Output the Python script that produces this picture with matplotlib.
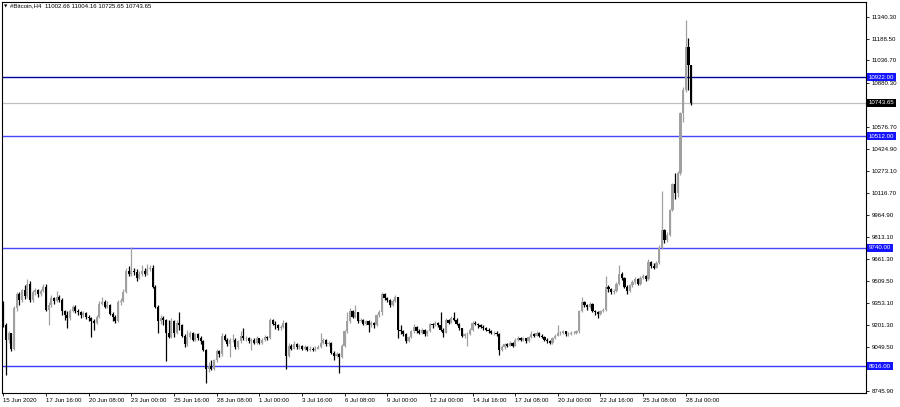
import numpy as np
import matplotlib
matplotlib.use("Agg")
import matplotlib.pyplot as plt
import matplotlib.transforms as mtransforms

plt.rcParams['font.family'] = ['Liberation Sans', 'DejaVu Sans']

# H4 candles, 15 Jun 2020 -> 28 Jul 2020 (open of each bar = previous close)
first_open = 9340
closes = [
    9205, 9100, 9145, 9040, 9320, 9420, 9375, 9445, 9405, 9485,
    9375, 9430, 9445, 9420, 9440, 9470, 9310, 9340, 9390, 9370,
    9400, 9380, 9300, 9270, 9250, 9300, 9330, 9300, 9290, 9270,
    9285, 9260, 9250, 9230, 9220, 9260, 9350, 9365, 9330, 9345,
    9280, 9260, 9230, 9360, 9370, 9430, 9580, 9560, 9580, 9570,
    9530, 9555, 9580, 9560, 9590, 9600, 9470, 9330, 9230, 9250,
    9240, 9150, 9120, 9230, 9150, 9220, 9200, 9130, 9070, 9120,
    9150, 9100, 9140, 9110, 9090, 9030, 8900, 8920, 8900, 8960,
    9020, 9000, 9130, 9100, 9070, 9100, 9100, 9050, 9090, 9130,
    9110, 9110, 9090, 9100, 9080, 9110, 9080, 9100, 9120, 9110,
    9240, 9210, 9200, 9180, 9190, 9220, 8990, 9060, 9040, 9070,
    9050, 9060, 9040, 9050, 9030, 9040, 9030, 9040, 9050, 9080,
    9100, 9070, 9080, 9010, 8990, 9000, 8980, 9060, 9160, 9230,
    9300, 9260, 9290, 9230, 9240, 9210, 9230, 9200, 9220, 9200,
    9270, 9290, 9420, 9390, 9380, 9340, 9370, 9400, 9170, 9160,
    9140, 9090, 9120, 9160, 9190, 9160, 9150, 9170, 9140, 9160,
    9210, 9200, 9220, 9200, 9170, 9150, 9240, 9220, 9250, 9240,
    9210, 9180, 9130, 9140, 9140, 9170, 9220, 9210, 9200, 9190,
    9180, 9170, 9160, 9150, 9150, 9140, 9030, 9050, 9070, 9060,
    9080, 9060, 9100, 9110, 9100, 9110, 9090, 9120, 9140, 9130,
    9150, 9130, 9120, 9100, 9090, 9080, 9110, 9130, 9150, 9150,
    9160, 9140, 9140, 9150, 9150, 9160, 9300, 9360, 9340, 9330,
    9350, 9300, 9290, 9280, 9300, 9310, 9470, 9450, 9430, 9440,
    9490, 9560, 9530, 9470, 9440, 9480, 9500, 9520, 9490, 9530,
    9540, 9520, 9640, 9610, 9600, 9630, 9740, 9860, 9790, 9830,
    10000, 10180, 10120, 10260, 10670, 10830, 11130, 11002.66, 10743.65,
]
highs = [
    9370, 9215, 9160, 9150, 9335, 9435, 9430, 9455, 9480, 9525,
    9510, 9445, 9460, 9455, 9450, 9490, 9485, 9360, 9410, 9400,
    9440, 9410, 9390, 9310, 9300, 9315, 9345, 9340, 9315, 9300,
    9300, 9295, 9275, 9260, 9245, 9275, 9370, 9400, 9375, 9370,
    9350, 9290, 9270, 9380, 9390, 9450, 9600, 9610, 9745, 9600,
    9590, 9575, 9620, 9595, 9625, 9620, 9620, 9480, 9340, 9270,
    9265, 9245, 9240, 9250, 9235, 9240, 9290, 9210, 9140, 9170,
    9165, 9155, 9150, 9150, 9130, 9100, 9040, 8950, 8960, 8970,
    9040, 9030, 9150, 9140, 9110, 9115, 9140, 9110, 9100, 9160,
    9185, 9130, 9120, 9115, 9110, 9125, 9115, 9110, 9135, 9130,
    9250, 9245, 9230, 9210, 9205, 9235, 9225, 9080, 9070, 9090,
    9080, 9075, 9065, 9065, 9060, 9055, 9050, 9055, 9065, 9150,
    9115, 9105, 9095, 9085, 9020, 9015, 9010, 9070, 9170, 9290,
    9320, 9305, 9340, 9295, 9255, 9245, 9240, 9235, 9230, 9225,
    9280, 9305, 9430, 9425, 9400, 9385, 9385, 9410, 9400, 9200,
    9170, 9145, 9130, 9170, 9210, 9195, 9175, 9180, 9175, 9170,
    9220, 9215, 9230, 9225, 9290, 9180, 9250, 9245, 9265, 9290,
    9250, 9215, 9185, 9150, 9155, 9180, 9230, 9230, 9220, 9210,
    9200, 9190, 9180, 9170, 9165, 9160, 9145, 9065, 9080, 9080,
    9095, 9085, 9110, 9125, 9120, 9120, 9115, 9130, 9160, 9150,
    9160, 9155, 9140, 9125, 9110, 9100, 9120, 9140, 9200, 9165,
    9170, 9165, 9155, 9160, 9165, 9170, 9310, 9400, 9370, 9350,
    9360, 9355, 9310, 9300, 9310, 9320, 9540, 9480, 9460, 9455,
    9500, 9620, 9570, 9535, 9480, 9490, 9515, 9535, 9530, 9545,
    9560, 9550, 9660, 9650, 9630, 9645, 9760, 10130, 9870, 9850,
    10010, 10190, 10260, 10270, 10680, 10850, 11320, 11190, 11004.16,
]
lows = [
    9190, 8860, 9080, 9020, 9030, 9300, 9340, 9365, 9385, 9390,
    9360, 9360, 9410, 9400, 9405, 9430, 9300, 9205, 9330, 9350,
    9360, 9365, 9270, 9240, 9180, 9240, 9290, 9285, 9270, 9255,
    9260, 9245, 9230, 9120, 9170, 9210, 9250, 9340, 9320, 9320,
    9270, 9230, 9220, 9225, 9345, 9360, 9425, 9545, 9540, 9550,
    9510, 9520, 9545, 9545, 9550, 9575, 9460, 9320, 9150, 9210,
    9205, 8955, 9110, 9115, 9120, 9140, 9170, 9120, 9050, 9060,
    9105, 9090, 9095, 9100, 9075, 9020, 8800, 8880, 8890, 8890,
    8950, 8985, 8990, 9090, 9060, 8980, 9085, 9040, 9040, 9080,
    9100, 9095, 9080, 9030, 9070, 9075, 9070, 9070, 9095, 9100,
    9105, 9200, 9175, 9170, 9170, 9180, 8900, 8985, 9030, 9035,
    9040, 9040, 9030, 9030, 9020, 9025, 9020, 9025, 9035, 9045,
    9070, 9060, 9060, 9000, 8960, 8980, 8870, 8975, 9050, 9150,
    9220, 9250, 9255, 9220, 9225, 9200, 9200, 9155, 9190, 9185,
    9195, 9260, 9270, 9380, 9365, 9330, 9335, 9360, 9115, 9140,
    9125, 9080, 9085, 9110, 9150, 9150, 9140, 9140, 9130, 9130,
    9155, 9185, 9195, 9190, 9160, 9120, 9145, 9210, 9215, 9230,
    9200, 9170, 9120, 9115, 9060, 9135, 9165, 9200, 9185, 9180,
    9170, 9160, 9150, 9140, 9135, 9130, 8995, 9020, 9040, 9050,
    9055, 9050, 9055, 9095, 9090, 9095, 9080, 9085, 9115, 9120,
    9125, 9120, 9110, 9090, 9080, 9070, 9075, 9105, 9125, 9135,
    9140, 9130, 9125, 9135, 9140, 9140, 9150, 9290, 9325, 9310,
    9320, 9290, 9270, 9250, 9270, 9290, 9300, 9430, 9415, 9420,
    9435, 9480, 9515, 9460, 9420, 9435, 9470, 9490, 9480, 9480,
    9520, 9510, 9515, 9600, 9590, 9595, 9625, 9730, 9770, 9780,
    9820, 9990, 10080, 10090, 10240, 10610, 10820, 10830, 10725.65,
]

date_labels = ["15 Jun 2020", "17 Jun 16:00", "20 Jun 08:00", "23 Jun 00:00",
               "25 Jun 16:00", "28 Jun 08:00", "1 Jul 00:00", "3 Jul 16:00",
               "6 Jul 08:00", "9 Jul 00:00", "12 Jul 00:00", "14 Jul 16:00",
               "17 Jul 08:00", "20 Jul 00:00", "22 Jul 16:00", "25 Jul 08:00",
               "28 Jul 00:00"]
date_positions = [0, 16, 32, 48, 64, 80, 96, 112, 128, 144, 160, 176,
                  192, 208, 224, 240, 256]

price_ticks = [11340.30, 11188.50, 11036.70, 10880.30, 10728.50, 10576.70,
               10424.90, 10273.10, 10116.70, 9964.90, 9813.10, 9661.30,
               9509.50, 9353.10, 9201.30, 9049.50, 8897.70, 8745.90]
# these two scale labels sit under the price boxes in the terminal
hidden_ticks = [10728.50, 8897.70]

level_values = [10922.00, 10512.00, 9740.00, 8916.00]
level_colors = ['#00009a', '#4646ff', '#4646ff', '#3c3cff']
last_price = 10743.65

closes = np.array(closes, dtype=float)
highs = np.array(highs, dtype=float)
lows = np.array(lows, dtype=float)
opens = np.concatenate([[first_open], closes[:-1]])
xs = np.arange(len(closes))

fig = plt.figure(figsize=(9, 4.07), dpi=100)
ax = fig.add_axes([2 / 900, 1 - 393.3 / 407, 864 / 900, 391.3 / 407])

up = closes >= opens
bull_col = '#a0a0a0'
cols = np.where(up, bull_col, 'black')

ax.vlines(xs, lows, highs, colors=cols, linewidth=0.9, zorder=3)
body_lo = np.minimum(opens, closes)
body_h = np.abs(closes - opens)
ax.bar(xs, body_h, bottom=body_lo, width=0.8, color=cols, linewidth=0, zorder=4)

# support / resistance levels and current price line
for val, c in zip(level_values, level_colors):
    ax.axhline(val, color=c, linewidth=1.0, zorder=2)
ax.axhline(last_price, color='#c0c0c0', linewidth=0.9, zorder=2)

ax.set_xlim(-0.5, 323.6)
ax.set_ylim(8730.0, 11441.8)

fs = 4.4
ax.yaxis.tick_right()
ax.set_yticks(price_ticks)
ax.set_yticklabels(["" if v in hidden_ticks else f"{v:.2f}" for v in price_ticks],
                   fontsize=fs)
ax.tick_params(axis='y', direction='out', length=2.5, width=0.6, pad=1.5)

ax.set_xticks(date_positions)
ax.set_xticklabels(date_labels, fontsize=fs, ha='left')
ax.tick_params(axis='x', direction='out', length=2.5, width=0.6, pad=1.0)

for s in ax.spines.values():
    s.set_linewidth(0.8)
    s.set_color('black')

# price boxes on the right scale
trans = mtransforms.blended_transform_factory(ax.transAxes, ax.transData)
for val in level_values:
    ax.text(1.0035, val, f"{val:.2f}", transform=trans, fontsize=fs, color='white',
            ha='left', va='center', clip_on=False, zorder=10,
            bbox=dict(facecolor='#1414ff', edgecolor='none', pad=1.1))
ax.text(1.0035, last_price, f"{last_price:.2f}", transform=trans, fontsize=fs,
        color='white', ha='left', va='center', clip_on=False, zorder=10,
        bbox=dict(facecolor='black', edgecolor='none', pad=1.1))

# header
fig.text(4 / 900, 1 - 6 / 407, "\u25bc", fontsize=3.2, family='DejaVu Sans',
         va='center', ha='left')
fig.text(10 / 900, 1 - 6 / 407,
         "#Bitcoin,H4  11002.66 11004.16 10725.65 10743.65",
         fontsize=fs, va='center', ha='left')

fig.savefig("out.png", dpi=100)
